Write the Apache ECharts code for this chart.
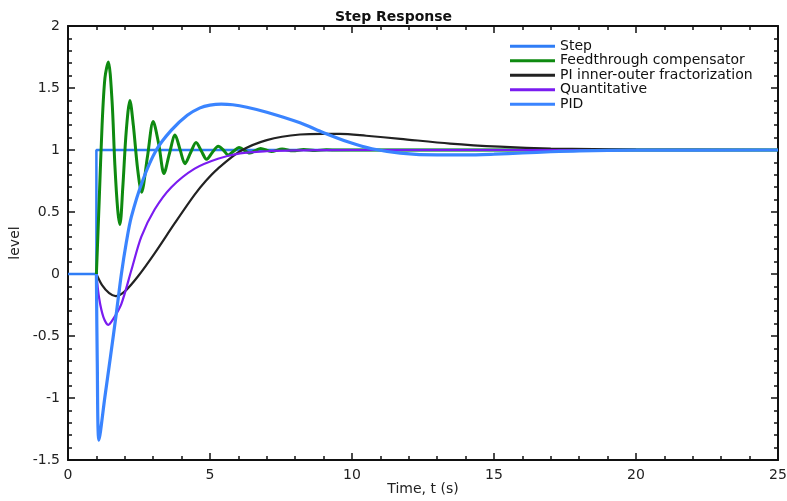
<!DOCTYPE html>
<html>
<head>
<meta charset="utf-8">
<script src="https://cdn.jsdelivr.net/npm/echarts@6/dist/echarts.min.js"></script>
<style>
  html, body { margin: 0; padding: 0; background: #fff; }
  #chart { width: 787px; height: 501px; }
</style>
</head>
<body>
<div id="chart"></div>
<script>
// series names, as in the legend
const seriesNames = ['Step', 'Feedthrough compensator', 'PI inner-outer fractorization', 'Quantitative', 'PID']

// Step input
const stepT = [0, 1, 1, 25]
const stepY = [0, 0, 1, 1]

// Feedthrough compensator (green, fast ringing)
const feedT = [1, 1.1, 1.2, 1.3, 1.42, 1.55, 1.65, 1.75, 1.83, 1.93, 2.05, 2.18, 2.3, 2.45, 2.59, 2.8, 3.0, 3.2, 3.38, 3.57, 3.77, 3.95, 4.12, 4.32, 4.51, 4.7, 4.88, 5.08, 5.29, 5.47, 5.64, 5.83, 6.02, 6.4, 6.78, 7.16, 7.54, 7.92, 8.3, 8.7, 9.1, 9.5, 10, 15, 20, 25]
const feedY = [0, 0.6, 1.2, 1.58, 1.71, 1.4, 0.88, 0.52, 0.4, 0.7, 1.15, 1.4, 1.2, 0.85, 0.66, 0.95, 1.23, 1.04, 0.81, 0.97, 1.12, 1.0, 0.89, 0.98, 1.06, 0.99, 0.925, 0.98, 1.03, 1.0, 0.96, 0.99, 1.02, 0.975, 1.013, 0.987, 1.008, 0.993, 1.004, 0.996, 1.002, 0.999, 1.0, 1.0, 1.0, 1.0]

// PI inner-outer fractorization (black)
const piT = [1, 1.2, 1.45, 1.68, 2.0, 2.46, 3.05, 3.76, 4.46, 4.85, 5.28, 6.06, 7.0, 8.17, 9.0, 9.58, 10.5, 11.7, 13.45, 15.2, 17, 20, 25]
const piY = [0, -0.09, -0.155, -0.178, -0.14, -0.02, 0.167, 0.41, 0.64, 0.75, 0.85, 0.99, 1.08, 1.125, 1.13, 1.13, 1.115, 1.09, 1.052, 1.027, 1.012, 1.003, 1.0]

// Quantitative (purple)
const quantT = [1, 1.1, 1.25, 1.42, 1.6, 1.88, 2.23, 2.58, 3.05, 3.64, 4.46, 5.28, 6.06, 7.0, 8, 10, 25]
const quantY = [0, -0.2, -0.35, -0.41, -0.36, -0.24, 0.03, 0.3, 0.52, 0.7, 0.85, 0.93, 0.973, 0.99, 0.997, 1.0, 1.0]

// PID (blue, big undershoot then overshoot)
const pidT = [1, 1.03, 1.09, 1.3, 1.5, 1.7, 1.88, 2.05, 2.23, 2.64, 3.11, 3.64, 4.2, 4.65, 5.0, 5.4, 5.8, 6.3, 7, 8.17, 9, 9.93, 10.7, 11.7, 13, 14, 15, 16, 17, 18, 20, 25]
const pidY = [0, -0.7, -1.34, -0.99, -0.66, -0.32, 0.0, 0.25, 0.46, 0.76, 1.0, 1.16, 1.28, 1.34, 1.362, 1.37, 1.365, 1.345, 1.305, 1.22, 1.14, 1.06, 1.01, 0.975, 0.96, 0.96, 0.966, 0.976, 0.986, 0.993, 0.999, 1.0]

// axis ticks
const xTicks = { min: 0, max: 25, interval: 5 }
const yTicks = { min: -1.5, max: 2, interval: 0.5 }

const colors = ['#2f7df6', '#0e8a10', '#222222', '#7a1cf0', '#3a84ff']
const FONT = '"DejaVu Sans", "Liberation Sans", Arial, sans-serif'

const pairs = (ts, ys) => ts.map((t, i) => [t, ys[i]])
const seriesData = [
  pairs(stepT, stepY),
  pairs(feedT, feedY),
  pairs(piT, piY),
  pairs(quantT, quantY),
  pairs(pidT, pidY)
]
const widths = [2.5, 3, 2.2, 2.2, 3.2]

// 盒子型坐标轴，刻度向内
const boxAxis = (range, extra) => Object.assign({
  type: 'value',
  min: range.min,
  max: range.max,
  interval: range.interval,
  nameMoveOverlap: false,
  axisLine: { show: true, onZero: false, lineStyle: { color: '#111', width: 2 } },
  axisTick: { show: true, inside: true, length: 7, lineStyle: { color: '#111', width: 1.5 } },
  minorTick: { show: true, splitNumber: 5, length: 4, lineStyle: { color: '#111', width: 1.5 } },
  splitLine: { show: false },
  minorSplitLine: { show: false },
  axisLabel: { color: '#222', fontSize: 14, fontFamily: FONT }
}, extra)

const chart = echarts.init(document.getElementById('chart'))
chart.setOption({
  animation: false,
  color: colors,
  title: {
    text: 'Step Response',
    left: 'center',
    top: 5,
    textStyle: { fontSize: 14, fontWeight: 'bold', color: '#111', fontFamily: FONT }
  },
  grid: { left: 68, right: 9, top: 26, bottom: 41, outerBoundsMode: 'none' },
  legend: {
    orient: 'vertical',
    left: 505,
    top: 34,
    icon: 'rect',
    itemWidth: 45,
    itemHeight: 3,
    itemGap: 0,
    data: seriesNames,
    textStyle: { fontSize: 14, color: '#111', fontFamily: FONT, lineHeight: 14.5 }
  },
  xAxis: [
    boxAxis(xTicks, {
      position: 'bottom',
      name: 'Time, t (s)',
      nameLocation: 'middle',
      nameGap: 22,
      nameTextStyle: { fontSize: 14, color: '#222', fontFamily: FONT },
      axisLabel: { color: '#222', fontSize: 14, fontFamily: FONT, margin: 8 }
    }),
    boxAxis(xTicks, { position: 'top', axisLabel: { show: false } })
  ],
  yAxis: [
    boxAxis(yTicks, {
      position: 'left',
      name: 'level',
      nameLocation: 'middle',
      nameGap: 46,
      nameTextStyle: { fontSize: 14, color: '#222', fontFamily: FONT },
      axisLabel: { color: '#222', fontSize: 14, fontFamily: FONT, margin: 8 }
    }),
    boxAxis(yTicks, { position: 'right', axisLabel: { show: false } })
  ],
  series: seriesNames.map((name, i) => ({
    name,
    type: 'line',
    xAxisIndex: 0,
    yAxisIndex: 0,
    data: seriesData[i],
    showSymbol: false,
    smooth: i === 0 ? false : 0.3,
    lineStyle: { width: widths[i], color: colors[i] },
    itemStyle: { color: colors[i] }
  }))
})
</script>
</body>
</html>
